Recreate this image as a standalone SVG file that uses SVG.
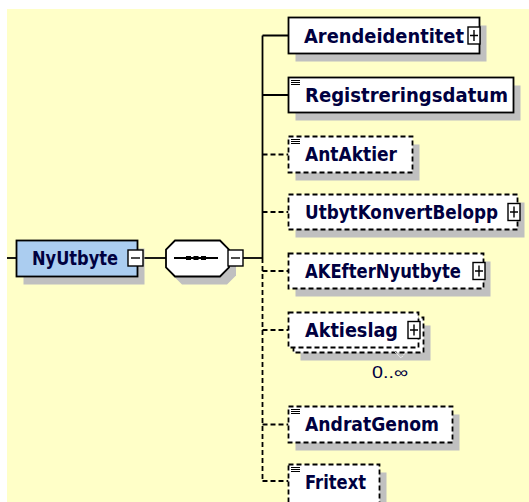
<svg xmlns="http://www.w3.org/2000/svg" width="529" height="502" viewBox="0 0 529 502">
<style>
.bg{fill:#ffffc8}
.sh{fill:#c0c0c0}
.box{fill:#fff;stroke:#000;stroke-width:1.8}
.opt{stroke-dasharray:5 3}
.root{fill:#abcdf0;stroke:#000;stroke-width:1.8}
.lbl{font-family:"DejaVu Sans","Liberation Sans",sans-serif;font-weight:bold;font-size:19px;fill:#000040}
.occ{font-family:"Liberation Sans",Arial,sans-serif;font-size:16px;fill:#000040}
.ln{fill:none;stroke:#000;stroke-width:1.8}
.dl{fill:none;stroke:#000;stroke-width:1.8;stroke-dasharray:5 3}
.ic{fill:#fff;stroke:#000;stroke-width:1.4}
.icl{fill:none;stroke:#000;stroke-width:1.4}
.st{fill:none;stroke:#000;stroke-width:1}
</style>
<defs>
<g id="plus"><rect x="0" y="0" width="12" height="17" class="ic"/><path d="M2 8.5H10M6 3V14" class="icl"/></g>
<g id="minus"><rect x="0" y="0" width="15" height="16" class="ic"/><path d="M3 8H12" class="icl"/></g>
<g id="simple"><path d="M0 0.5H9M0 2.5H9M0 4.5H9" class="st"/></g>
</defs>
<rect class="bg" x="7" y="9" width="522" height="493"/>

<g id="connectors">
<path class="ln" d="M7 258H16.5"/>
<path class="ln" d="M143 258H166"/>
<path class="ln" d="M243 258H262.5"/>
<path class="ln" d="M262.5 35.5V258"/>
<path class="dl" d="M262.5 258V481"/>
<path class="ln" d="M262.5 35.5H288.5M262.5 95H288.5"/>
<path class="dl" d="M262.5 154.5H288.5M262.5 212H288.5M262.5 271H288.5M262.5 330H288.5M262.5 424.5H288.5M262.5 481H288.5"/>
</g>

<g id="NyUtbyte">
<rect class="sh" x="23.5" y="248.5" width="121" height="36"/>
<rect class="root" x="16.5" y="240.5" width="121" height="36"/>
<text class="lbl" x="32" y="265" textLength="86" lengthAdjust="spacingAndGlyphs">NyUtbyte</text>
<use href="#minus" x="128" y="250"/>
</g>

<g id="sequence">
<polygon class="sh" points="182,248.5 227,248.5 236,257.5 236,275.5 227,284.5 182,284.5 173,275.5 173,257.5"/>
<polygon class="box" points="175,240.5 220,240.5 229,249.5 229,267.5 220,276.5 175,276.5 166,267.5 166,249.5"/>
<path class="ln" d="M174 258H218"/>
<rect x="186" y="256" width="5" height="4" fill="#000"/>
<rect x="193.5" y="256" width="5" height="4" fill="#000"/>
<rect x="201" y="256" width="5" height="4" fill="#000"/>
<use href="#minus" x="228" y="250"/>
</g>

<g id="Arendeidentitet">
<rect class="sh" x="295.5" y="25.5" width="191" height="36"/>
<rect class="box" x="288.5" y="17.5" width="191" height="36"/>
<text class="lbl" x="304" y="42.5" textLength="160" lengthAdjust="spacingAndGlyphs">Arendeidentitet</text>
<use href="#plus" x="468" y="27"/>
</g>

<g id="Registreringsdatum">
<rect class="sh" x="295.5" y="85.5" width="225" height="35"/>
<rect class="box" x="288.5" y="77.5" width="225" height="35"/>
<use href="#simple" x="291" y="80"/>
<text class="lbl" x="305" y="101.5" textLength="203" lengthAdjust="spacingAndGlyphs">Registreringsdatum</text>
</g>

<g id="AntAktier">
<rect class="sh" x="295.5" y="144.5" width="124" height="36"/>
<rect class="box opt" x="288.5" y="136.5" width="124" height="36"/>
<use href="#simple" x="291" y="139"/>
<text class="lbl" x="305" y="161" textLength="92" lengthAdjust="spacingAndGlyphs">AntAktier</text>
</g>

<g id="UtbytKonvertBelopp">
<rect class="sh" x="295.5" y="202.5" width="229" height="35"/>
<rect class="box opt" x="288.5" y="194.5" width="229" height="35"/>
<text class="lbl" x="305" y="218.5" textLength="193" lengthAdjust="spacingAndGlyphs">UtbytKonvertBelopp</text>
<use href="#plus" x="508" y="203.5"/>
</g>

<g id="AKEfterNyutbyte">
<rect class="sh" x="295.5" y="261.5" width="195" height="35"/>
<rect class="box opt" x="288.5" y="253.5" width="195" height="35"/>
<text class="lbl" x="305" y="277.5" textLength="156" lengthAdjust="spacingAndGlyphs">AKEfterNyutbyte</text>
<use href="#plus" x="473" y="262.5"/>
</g>

<g id="Aktieslag">
<rect class="sh" x="300.5" y="325.5" width="130" height="35"/>
<rect class="box opt" x="293.5" y="317.5" width="130" height="35"/>
<rect class="box opt" x="288.5" y="312.5" width="130" height="35"/>
<text class="lbl" x="305" y="336.5" textLength="93" lengthAdjust="spacingAndGlyphs">Aktieslag</text>
<use href="#plus" x="408" y="321.5"/>
<polyline points="393,350 401,358 406,352" fill="none" stroke="#f4f4f4" stroke-width="1" stroke-dasharray="2 1"/>
<text class="occ" x="372" y="378" textLength="36" lengthAdjust="spacingAndGlyphs">0..∞</text>
</g>

<g id="AndratGenom">
<rect class="sh" x="295.5" y="414.5" width="164" height="36"/>
<rect class="box opt" x="288.5" y="406.5" width="164" height="36"/>
<use href="#simple" x="291" y="409"/>
<text class="lbl" x="305" y="431" textLength="134" lengthAdjust="spacingAndGlyphs">AndratGenom</text>
</g>

<g id="Fritext">
<rect class="sh" x="295.5" y="472.5" width="91" height="40"/>
<rect class="box opt" x="288.5" y="464.5" width="91" height="40"/>
<use href="#simple" x="291" y="467"/>
<text class="lbl" x="305" y="488.5" textLength="61" lengthAdjust="spacingAndGlyphs">Fritext</text>
</g>
</svg>
